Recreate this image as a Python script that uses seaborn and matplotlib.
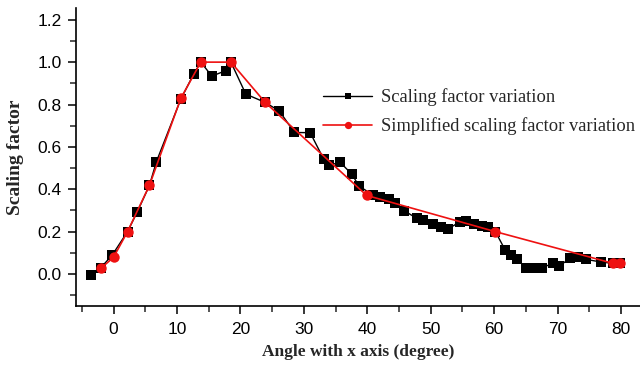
import numpy as np
import pandas as pd
import matplotlib
matplotlib.use("Agg")
import matplotlib.pyplot as plt
import seaborn as sns
from matplotlib.ticker import MultipleLocator

# Data
angle_full = [-3.6, -2.0, -0.2, 2.2, 3.75, 5.65, 6.75, 10.6, 12.65, 13.75, 15.5, 17.7,
              18.5, 20.85, 23.9, 26.15, 28.5, 31.0, 33.1, 34.0, 35.7, 37.6, 38.7,
              40.9, 42.0, 43.5, 44.35, 45.8, 47.8, 48.8, 50.3, 51.7, 52.8, 54.65,
              55.5, 56.9, 58.1, 59.1, 60.2, 61.75, 62.7, 63.6, 65.1, 66.1, 67.5,
              69.3, 70.3, 72.0, 73.3, 74.5, 76.8, 78.8, 79.9]
scale_full = [-0.005, 0.03, 0.09, 0.2, 0.294, 0.418, 0.53, 0.825, 0.945, 1.0, 0.934, 0.96,
              1.0, 0.849, 0.81, 0.769, 0.668, 0.667, 0.544, 0.513, 0.528, 0.47, 0.415,
              0.373, 0.362, 0.352, 0.333, 0.299, 0.263, 0.255, 0.237, 0.22, 0.214, 0.247,
              0.25, 0.236, 0.228, 0.22, 0.2, 0.113, 0.09, 0.071, 0.027, 0.027, 0.03,
              0.05, 0.039, 0.074, 0.082, 0.069, 0.057, 0.05, 0.05]

angle_simple = [-2.0, 0.0, 2.2, 5.65, 10.6, 13.75, 18.5, 23.9, 39.9, 60.2, 78.8, 79.9]
scale_simple = [0.027, 0.079, 0.2, 0.418, 0.829, 1.0, 1.0, 0.81, 0.371, 0.2, 0.05, 0.05]

label_full = "Scaling factor variation"
label_simple = "Simplified scaling factor variation"

df_full = pd.DataFrame({"x": angle_full, "y": scale_full})
df_simple = pd.DataFrame({"x": angle_simple, "y": scale_simple})

sns.set_style("ticks")
plt.rcParams["font.family"] = ["Liberation Sans", "DejaVu Sans"]

fig = plt.figure(figsize=(6.4, 3.68), dpi=100)
ax = fig.add_axes([0.118, 0.169, 0.882, 0.809])

sns.lineplot(data=df_full, x="x", y="y", ax=ax, color="black", linewidth=1.0,
             marker="s", markersize=6.5, markeredgewidth=0, label=label_full,
             sort=False)
sns.lineplot(data=df_simple, x="x", y="y", ax=ax, color="#ee1111", linewidth=1.2,
             marker="o", markersize=7.5, markeredgewidth=0, label=label_simple,
             sort=False)

ax.set_xlim(-6, 83)
ax.set_ylim(-0.15, 1.255)
ax.xaxis.set_major_locator(MultipleLocator(10))
ax.xaxis.set_minor_locator(MultipleLocator(5))
ax.yaxis.set_major_locator(MultipleLocator(0.2))
ax.yaxis.set_minor_locator(MultipleLocator(0.1))
ax.yaxis.set_major_formatter(matplotlib.ticker.FormatStrFormatter("%.1f"))

for s in ["top", "right"]:
    ax.spines[s].set_visible(False)
for s in ["left", "bottom"]:
    ax.spines[s].set_linewidth(1.2)
    ax.spines[s].set_color("black")

ax.tick_params(which="major", direction="out", length=6, width=1.1, labelsize=12.5,
               colors="black", pad=4)
ax.tick_params(axis="x", which="major", pad=6)
ax.tick_params(which="minor", direction="out", length=4, width=1.1)

ax.set_xlabel("Angle with x axis (degree)", family="Liberation Serif",
              fontweight="bold", fontsize=12.5)
ax.set_ylabel("Scaling factor", family="Liberation Serif",
              fontweight="bold", fontsize=14)
ax.xaxis.set_label_coords(0.5, -0.128)
ax.yaxis.set_label_coords(-0.092, 0.5)

leg = ax.legend(loc="center left", bbox_to_anchor=(323 / 640, 1 - 112 / 368),
                bbox_transform=fig.transFigure, frameon=False, borderpad=0,
                borderaxespad=0,
                prop={"family": "Liberation Serif", "size": 13.3},
                handlelength=2.67, labelspacing=0.6, handletextpad=0.45,
                markerscale=0.7)

fig.savefig("out.png", dpi=100)
